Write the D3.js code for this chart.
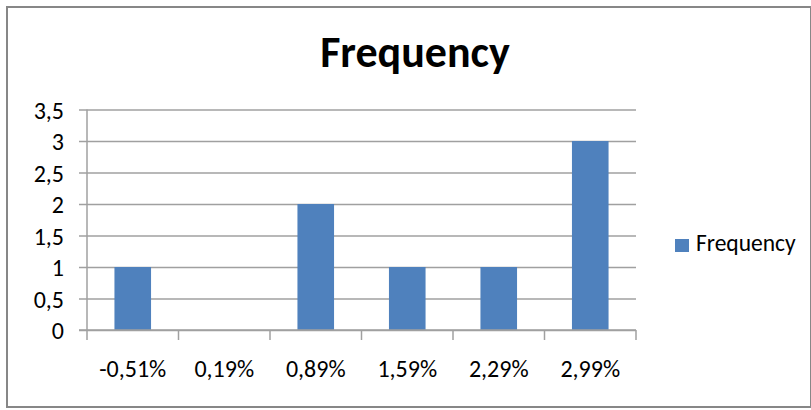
<!DOCTYPE html>
<html>
<head>
<meta charset="utf-8">
<script src="https://cdn.jsdelivr.net/npm/d3@7"></script>
<style>
  html, body { margin: 0; padding: 0; background: #ffffff; }
  svg { display: block; }
  text { font-family: Carlito, Calibri, Lato, "Open Sans", sans-serif; fill: #000; }
</style>
</head>
<body>
<svg id="chart" width="811" height="410"></svg>
<script>
// Histogram bins (return buckets) and their counts
const categories = ["-0,51%", "0,19%", "0,89%", "1,59%", "2,29%", "2,99%"];
const frequency = [1, 0, 2, 1, 1, 3];
const yTicks = [0, 0.5, 1, 1.5, 2, 2.5, 3, 3.5];
const seriesName = "Frequency";
const chartTitle = "Frequency";

const svg = d3.select("#chart");
const W = 811, H = 410;

const plot = { left: 87, right: 636, top: 109.5, bottom: 330 };

const x = d3.scaleBand()
  .domain(categories)
  .range([plot.left, plot.right])
  .paddingInner(0.6)
  .paddingOuter(0.3);

const xEdges = d3.scaleLinear()
  .domain([0, categories.length])
  .range([plot.left, plot.right]);

const y = d3.scaleLinear()
  .domain([0, 3.5])
  .range([plot.bottom, plot.top]);

const fmt = v => String(v).replace(".", ",");

// Outer chart frame
svg.append("rect")
  .attr("x", 7).attr("y", 7)
  .attr("width", W - 7).attr("height", H - 10)
  .attr("fill", "#fff")
  .attr("stroke", "#878787")
  .attr("stroke-width", 2);

// Title
svg.append("text")
  .attr("x", 415).attr("y", 67)
  .attr("text-anchor", "middle")
  .attr("font-size", 44)
  .attr("font-weight", "bold")
  .text(chartTitle);

// Horizontal gridlines + y axis
const yAxis = d3.axisLeft(y)
  .tickValues(yTicks)
  .tickSize(-(plot.right - plot.left))
  .tickFormat(fmt);

const gy = svg.append("g")
  .attr("transform", `translate(${plot.left},0)`)
  .call(yAxis);
gy.select(".domain").remove();
gy.selectAll(".tick line")
  .attr("x1", -8)
  .attr("stroke", "#a0a0a0")
  .attr("stroke-width", 1.5);
gy.selectAll(".tick text")
  .attr("font-size", 24)
  .attr("font-family", null)
  .attr("x", -23)
  .attr("dy", "0.36em");

// Vertical axis line
svg.append("line")
  .attr("x1", plot.left).attr("x2", plot.left)
  .attr("y1", plot.top).attr("y2", plot.bottom)
  .attr("stroke", "#a0a0a0")
  .attr("stroke-width", 1.5);

// Bars
svg.append("g")
  .selectAll("rect")
  .data(categories.map((c, i) => ({ c, v: frequency[i] })))
  .join("rect")
  .attr("x", d => x(d.c))
  .attr("width", x.bandwidth())
  .attr("y", d => y(d.v))
  .attr("height", d => y(0) - y(d.v))
  .attr("fill", "#4f81bd");

// X axis baseline, category tick marks and labels
const gx = svg.append("g")
  .attr("transform", `translate(0,${plot.bottom})`);
gx.append("line")
  .attr("x1", plot.left - 8).attr("x2", plot.right)
  .attr("stroke", "#a0a0a0").attr("stroke-width", 1.5);
gx.selectAll("line.edge")
  .data(d3.range(categories.length + 1))
  .join("line")
  .attr("class", "edge")
  .attr("x1", i => xEdges(i)).attr("x2", i => xEdges(i))
  .attr("y1", 0).attr("y2", 10)
  .attr("stroke", "#a0a0a0").attr("stroke-width", 1.5);
gx.selectAll("text")
  .data(categories)
  .join("text")
  .attr("x", d => x(d) + x.bandwidth() / 2)
  .attr("y", 47)
  .attr("text-anchor", "middle")
  .attr("font-size", 24)
  .text(d => d);

// Legend
const lg = svg.append("g");
lg.append("rect")
  .attr("x", 675).attr("y", 239)
  .attr("width", 14).attr("height", 13)
  .attr("fill", "#4f81bd");
lg.append("text")
  .attr("x", 696).attr("y", 251)
  .attr("font-size", 23.5)
  .text(seriesName);
</script>
</body>
</html>
